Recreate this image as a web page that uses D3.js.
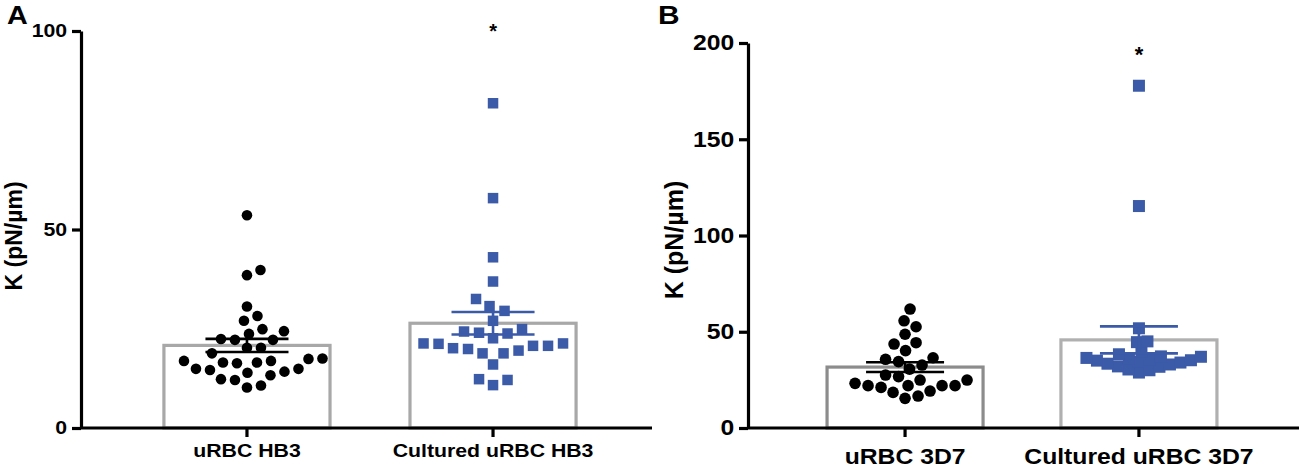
<!DOCTYPE html>
<html>
<head>
<meta charset="utf-8">
<script src="https://cdn.jsdelivr.net/npm/d3@7"></script>
<style>
  body { margin: 0; background: #fff; }
  text { font-family: "Liberation Sans", Arial, sans-serif; font-weight: bold; fill: #000; }
</style>
</head>
<body>
<svg id="chart" width="1299" height="470"></svg>
<script>
// panel A: HB3
var groupsA = ["uRBC HB3", "Cultured uRBC HB3"];
var hb3Values = [53.6, 39.8, 38.5, 30.6, 28.2, 27.0, 24.9, 24.4, 23.7, 22.4, 22.2, 22.2, 20.2, 20.2, 18.8, 17.5,
                 16.9, 16.5, 16.3, 16.5, 16.9, 17.4, 14.2, 13.3, 14.9, 14.6, 14.9, 13.9, 12.1, 12.3, 10.2, 10.7];
var culturedHb3Values = [81.8, 57.9, 43.0, 36.9, 32.5, 30.7, 29.5, 27.0, 24.3, 24.9, 23.8, 24.0, 22.6, 21.3,
                         21.3, 20.7, 21.2, 20.1, 19.5, 19.9, 20.7, 18.8, 18.8, 16.0, 12.3, 12.1, 10.8];
var ticksA = [0, 50, 100];

// panel B: 3D7
var groupsB = ["uRBC 3D7", "Cultured uRBC 3D7"];
var d7Values = [61.8, 55.7, 52.6, 48.7, 44.3, 43.6, 40.2, 35.7, 32.7, 36.5, 34.5, 30.6, 27.5, 26.7, 24.9, 24.9,
                22.0, 22.0, 21.1, 22.0, 22.0, 23.2, 18.5, 19.2, 16.6, 15.4];
var culturedD7Values = [28.8, 30.0, 30.4, 31.8, 32.0, 33.0, 33.4, 34.0, 34.3, 35.0, 35.2, 35.8, 36.0, 36.4,
                        37.0, 37.2, 38.3, 39.6, 44.6, 45.0, 51.8, 115.3, 177.8];
var ticksB = [0, 50, 100, 150, 200];

var blue = "#3b5aa8";
var svg = d3.select("#chart");

// simple beeswarm: lowest values first, each point pushed sideways until it no longer overlaps
function swarm(values, y, gap) {
    var placed = [];
    values.slice().sort(function (a, b) { return a - b; }).forEach(function (v) {
        var py = y(v), dx = 0;
        for (var s = 0; s < 1000; s++) {
            var cands = s === 0 ? [0] : [s * 0.5, -s * 0.5];
            var ok = cands.filter(function (c) {
                return placed.every(function (p) { return Math.hypot(p.dx - c, p.y - py) >= gap; });
            });
            if (ok.length) { dx = ok[0]; break; }
        }
        placed.push({ v: v, y: py, dx: dx });
    });
    return placed;
}

function drawPanel(o) {
    var g = svg.append("g");
    var y = d3.scaleLinear().domain(o.domain).range([428, o.top]);
    var x = d3.scaleBand().domain(o.groups).range([o.left, o.right])
        .paddingInner(o.padIn).paddingOuter(o.padOut);
    var bw = x.bandwidth();

    // bars (mean)
    o.series.forEach(function (s, i) {
        var m = d3.mean(s.values);
        g.append("rect")
            .attr("x", x(o.groups[i]))
            .attr("y", y(m))
            .attr("width", bw)
            .attr("height", y(0) - y(m))
            .attr("fill", "#fff")
            .attr("stroke", s.barColor)
            .attr("stroke-width", 3.2);
    });

    // points
    o.series.forEach(function (s, i) {
        var cx = x(o.groups[i]) + bw / 2;
        var pts = swarm(s.values, y, s.gap);
        if (s.shape === "circle") {
            g.selectAll(null).data(pts).enter().append("circle")
                .attr("cx", function (d) { return cx + d.dx; })
                .attr("cy", function (d) { return d.y; })
                .attr("r", s.size / 2)
                .attr("fill", s.color);
        } else {
            g.selectAll(null).data(pts).enter().append("rect")
                .attr("x", function (d) { return cx + d.dx - s.size / 2; })
                .attr("y", function (d) { return d.y - s.size / 2; })
                .attr("width", s.size)
                .attr("height", s.size)
                .attr("fill", s.color);
        }

        // mean +/- SEM
        var m = d3.mean(s.values), sem = d3.deviation(s.values) / Math.sqrt(s.values.length);
        var eb = g.append("g").attr("stroke", s.color).attr("stroke-width", 2.6);
        eb.append("line").attr("x1", cx).attr("x2", cx).attr("y1", y(m - sem)).attr("y2", y(m + sem));
        [m - sem, m + sem].forEach(function (v) {
            eb.append("line").attr("x1", cx - bw / 4).attr("x2", cx + bw / 4).attr("y1", y(v)).attr("y2", y(v));
        });
    });

    // axes
    var ya = g.append("g").attr("transform", "translate(" + o.left + ",0)")
        .call(d3.axisLeft(y).tickValues(o.ticks).tickSize(9).tickSizeOuter(0).tickPadding(3));
    var xa = g.append("g").attr("transform", "translate(0,428)")
        .call(d3.axisBottom(x).tickSize(9).tickSizeOuter(0).tickPadding(o.labelPad));
    [ya, xa].forEach(function (a) {
        a.select(".domain").attr("stroke", "#000").attr("stroke-width", 3.2);
        a.selectAll(".tick line").attr("stroke", "#000").attr("stroke-width", 3.2);
        a.selectAll(".tick text")
            .attr("font-size", o.fontSize)
            .attr("font-family", "Liberation Sans, Arial, sans-serif")
            .attr("font-weight", "bold")
            .attr("fill", "#000")
            .attr("transform", "scale(1.15,1)");
    });
    xa.select(".domain").attr("d", "M" + o.left + ",0H" + o.axisEnd);

    // y title
    g.append("text")
        .attr("transform", "translate(" + o.titleX + "," + o.titleY + ") rotate(-90)")
        .attr("text-anchor", "middle")
        .attr("font-size", o.titleSize)
        .text("K (pN/µm)");

    // panel letter
    g.append("text")
        .attr("transform", "translate(" + o.letterX + "," + o.letterY + ") scale(1.15,1)")
        .attr("font-size", o.letterSize).text(o.letter);

    // significance star
    g.append("text")
        .attr("x", x(o.groups[1]) + bw / 2).attr("y", o.starY)
        .attr("text-anchor", "middle").attr("font-size", o.starSize).text("*");
}

drawPanel({
    groups: groupsA, domain: [0, 100], ticks: ticksA, top: 31,
    left: 81, right: 659, axisEnd: 652, padIn: 0.325, padOut: 0.337,
    fontSize: 18.5, labelPad: 7, titleX: 22, titleY: 236, titleSize: 23,
    letter: "A", letterX: 7, letterY: 24, letterSize: 25, starY: 38, starSize: 20,
    series: [
        { values: hb3Values, shape: "circle", size: 10.6, gap: 14, color: "#000", barColor: "#a8a8a8" },
        { values: culturedHb3Values, shape: "square", size: 10.5, gap: 15, color: blue, barColor: "#a8a8a8" }
    ]
});

drawPanel({
    groups: groupsB, domain: [0, 200], ticks: ticksB, top: 43,
    left: 748, right: 1296, axisEnd: 1299, padIn: 0.333, padOut: 0.338,
    fontSize: 21.5, labelPad: 12, titleX: 683, titleY: 240, titleSize: 25,
    letter: "B", letterX: 658, letterY: 24, letterSize: 26, starY: 62, starSize: 22,
    series: [
        { values: d7Values, shape: "circle", size: 11.6, gap: 13, color: "#000", barColor: "#8c8c8c" },
        { values: culturedD7Values, shape: "square", size: 12, gap: 10.5, color: blue, barColor: "#b0b0b0" }
    ]
});
</script>
</body>
</html>
